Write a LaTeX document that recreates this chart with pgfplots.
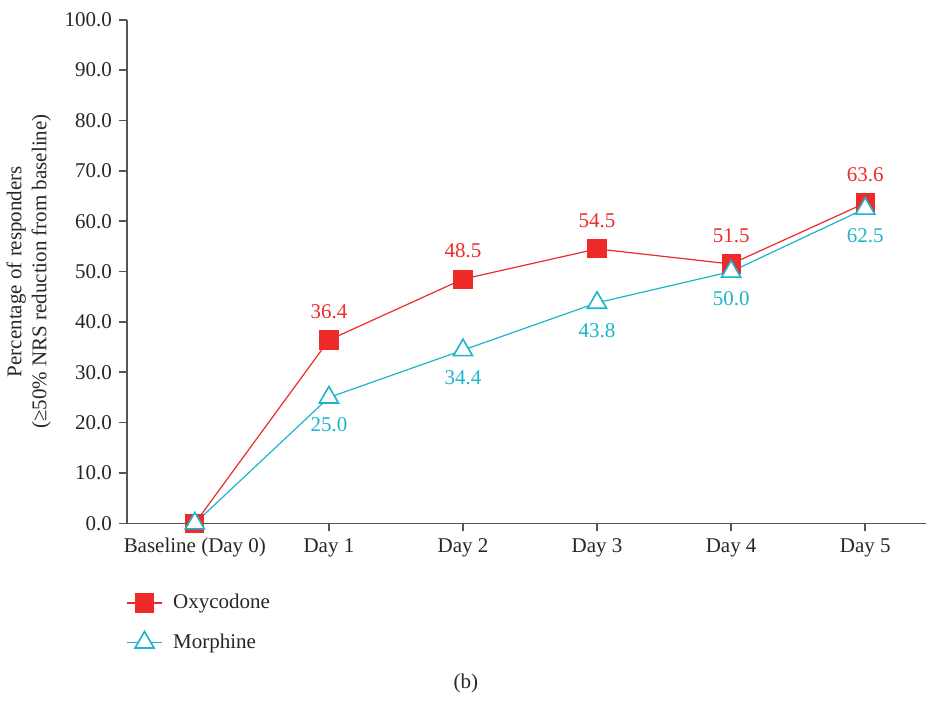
\documentclass[border={0pt 1pt 0pt 3pt}]{standalone}
\usepackage{pgfplots}
\pgfplotsset{compat=1.18}
\usepackage{fontspec}
\setmainfont{Liberation Serif}
\definecolor{oxy}{HTML}{EE2A2A}
\definecolor{mor}{HTML}{1BB5CC}
\definecolor{axc}{HTML}{555555}
\begin{document}
\begin{tikzpicture}
\begin{axis}[
  scale only axis,
  width=400pt, height=252pt,
  xmin=-0.507, xmax=5.455,
  ymin=0, ymax=100,
  axis x line=bottom, axis y line=left,
  axis line style={-, axc, line width=0.8pt},
  every tick/.style={axc, line width=0.8pt},
  tick align=outside,
  major tick length=4pt,
  xtick={0,1,2,3,4,5},
  xticklabels={Baseline (Day 0),Day 1,Day 2,Day 3,Day 4,Day 5},
  ytick={0,10,...,100},
  /pgf/number format/assume math mode=true,
  yticklabel style={/pgf/number format/.cd, fixed, fixed zerofill, precision=1},
  ticklabel style={font=\fontsize{10.5}{12}\selectfont, text=black!85},
  ylabel={Percentage of responders\\(≥50\% NRS reduction from baseline)},
  ylabel style={align=center, font=\fontsize{10.5}{12.5}\selectfont, text=black!85},
  clip=false,
  legend style={draw=none, at={(-0.008,-0.124)}, anchor=north west, font=\fontsize{10.5}{12}\selectfont, text=black!85, row sep=7pt, fill=none, nodes={inner xsep=5.5pt}},
  legend cell align=left,
]
\addplot[color=oxy, line width=0.6pt, mark=square*, mark size=4.5pt, mark options={fill=oxy, draw=oxy},
  nodes near coords={\pgfplotspointmeta},
  nodes near coords style={text=oxy, anchor=south, yshift=7pt, font=\fontsize{10.5}{12}\selectfont},
  point meta=explicit symbolic]
  table[meta=lab] {
x y lab
0 0 {}
1 36.4 36.4
2 48.5 48.5
3 54.5 54.5
4 51.5 51.5
5 63.6 63.6
};
\addlegendentry{Oxycodone}
\addplot[color=mor, line width=0.6pt, mark=triangle*, mark size=5.5pt, mark options={fill=white, draw=mor, line width=0.8pt},
  nodes near coords={\pgfplotspointmeta},
  nodes near coords style={text=mor, anchor=north, yshift=-6.5pt, font=\fontsize{10.5}{12}\selectfont},
  point meta=explicit symbolic]
  table[meta=lab] {
x y lab
0 0 {}
1 25.0 25.0
2 34.4 34.4
3 43.8 43.8
4 50.0 50.0
5 62.5 62.5
};
\addlegendentry{Morphine}
\node[font=\fontsize{10.5}{12}\selectfont, text=black!85] at (rel axis cs:0.424,-0.318) {(b)};
\end{axis}
\end{tikzpicture}
\end{document}
